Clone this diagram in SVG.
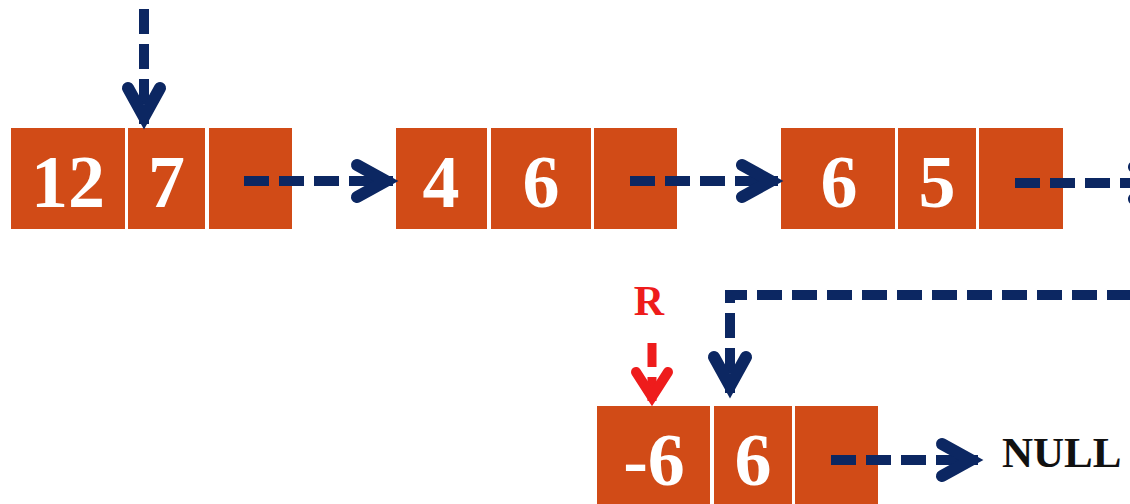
<svg xmlns="http://www.w3.org/2000/svg" width="1130" height="504" viewBox="0 0 1130 504">
<style>
.cell{fill:#d14b17}
.num{font-family:"Liberation Serif","Times New Roman",serif;font-weight:bold;font-size:74px;fill:#ffffff;text-anchor:middle}
.blue{fill:none;stroke:#0c2762;stroke-width:10;stroke-dasharray:25 10}
.red{fill:none;stroke:#ee1c1c;stroke-width:9;stroke-dasharray:24 10}
</style>
<defs>
<marker id="ah" markerUnits="userSpaceOnUse" orient="auto" refX="0" refY="0" markerWidth="60" markerHeight="60" viewBox="-50 -30 60 60" overflow="visible">
<path d="M-36,-16 L-7,0 L-36,16" fill="none" stroke="#0c2762" stroke-width="12" stroke-linecap="round" stroke-linejoin="miter"/>
</marker>
<marker id="ahr" markerUnits="userSpaceOnUse" orient="auto" refX="0" refY="0" markerWidth="60" markerHeight="60" viewBox="-50 -30 60 60" overflow="visible">
<path d="M-30,-16 L-5,0 L-30,16" fill="none" stroke="#ee1c1c" stroke-width="10" stroke-linecap="round" stroke-linejoin="miter"/>
</marker>
</defs>
<rect width="1130" height="504" fill="#ffffff"/>

<g id="node1">
<rect class="cell" x="11" y="128" width="114" height="101"/>
<rect class="cell" x="128" y="128" width="77" height="101"/>
<rect class="cell" x="209" y="128" width="83" height="101"/>
<text class="num" x="68" y="207">12</text>
<text class="num" x="166.5" y="207">7</text>
</g>

<g id="node2">
<rect class="cell" x="396" y="128" width="91" height="101"/>
<rect class="cell" x="491" y="128" width="100" height="101"/>
<rect class="cell" x="594" y="128" width="83" height="101"/>
<text class="num" x="441" y="207">4</text>
<text class="num" x="541" y="207">6</text>
</g>

<g id="node3">
<rect class="cell" x="781" y="128" width="114" height="101"/>
<rect class="cell" x="898" y="128" width="78" height="101"/>
<rect class="cell" x="979" y="128" width="84" height="101"/>
<text class="num" x="839" y="207">6</text>
<text class="num" x="937" y="207">5</text>
</g>

<g id="node4">
<rect class="cell" x="597" y="406" width="113" height="110"/>
<rect class="cell" x="714" y="406" width="78" height="110"/>
<rect class="cell" x="795" y="406" width="83" height="110"/>
<text class="num" x="654" y="485">-6</text>
<text class="num" x="753" y="485">6</text>
</g>

<g id="labels">
<text x="649" y="315" font-family="Liberation Serif,'Times New Roman',serif" font-weight="bold" font-size="42" fill="#ee1c1c" text-anchor="middle">R</text>
<text x="1002" y="467" font-family="Liberation Serif,'Times New Roman',serif" font-weight="bold" font-size="43" fill="#111111">NULL</text>
</g>

<g id="connectors">
<path class="blue" d="M144,9 V124" marker-end="url(#ah)"/>
<path class="blue" d="M244,181 H393" marker-end="url(#ah)"/>
<path class="blue" d="M630,181 H778" marker-end="url(#ah)"/>
<path class="blue" d="M1015,183 H1170" marker-end="url(#ah)"/>
<path class="blue" d="M1135,295 H730 V393" stroke-dashoffset="32" marker-end="url(#ah)"/>
<path class="blue" d="M831,460 H978" marker-end="url(#ah)"/>
<path class="red" d="M652,343 V402" marker-end="url(#ahr)"/>
</g>
</svg>
